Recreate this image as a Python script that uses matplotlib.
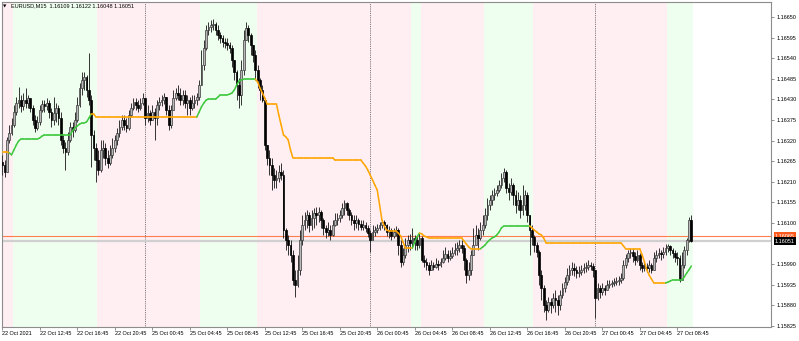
import matplotlib
matplotlib.use("Agg")
import matplotlib.pyplot as plt
import matplotlib.transforms as mtransforms
from matplotlib.collections import LineCollection
import numpy as np

plt.rcParams['font.family'] = ['Liberation Sans', 'DejaVu Sans']

# EURUSD M15, one bar every 15 min from 22 Oct 08:45 to 27 Oct 10:15
# prices kept as points (1e-5) above BASE
BASE = 1.15
first_open_pts = 1262

close_pts = [
    1255, 1236, 1322, 1340, 1362, 1396, 1420, 1428, 1412, 1428,
    1420, 1434, 1407, 1375, 1354, 1370, 1402, 1418, 1412, 1420,
    1396, 1375, 1394, 1407, 1380, 1322, 1300, 1290, 1322, 1356,
    1348, 1375, 1415, 1460, 1482, 1490, 1455, 1428, 1335, 1300,
    1268, 1242, 1295, 1300, 1274, 1260, 1282, 1300, 1322, 1340,
    1356, 1375, 1362, 1354, 1388, 1407, 1423, 1415, 1407, 1420,
    1434, 1380, 1394, 1375, 1396, 1380, 1415, 1423, 1428, 1436,
    1402, 1362, 1402, 1434, 1447, 1442, 1428, 1442, 1420, 1428,
    1407, 1420, 1428, 1436, 1468, 1522, 1567, 1615, 1623, 1629,
    1631, 1615, 1602, 1594, 1583, 1581, 1575, 1567, 1535, 1503,
    1468, 1442, 1508, 1589, 1621, 1602, 1575, 1549, 1508, 1482,
    1455, 1428, 1308, 1274, 1255, 1228, 1215, 1220, 1236, 1228,
    1081, 1055, 1041, 1015, 948, 934, 975, 1055, 1095, 1108,
    1121, 1095, 1113, 1127, 1121, 1129, 1108, 1087, 1076, 1081,
    1068, 1095, 1108, 1113, 1121, 1140, 1153, 1135, 1121, 1108,
    1100, 1108, 1097, 1089, 1095, 1087, 1073, 1055, 1076, 1081,
    1087, 1095, 1103, 1095, 1076, 1081, 1065, 1076, 1081, 1041,
    996, 1015, 1041, 1055, 1047, 1060, 1055, 1041, 1060, 1001,
    996, 988, 975, 988, 983, 991, 988, 996, 1007, 1017,
    1007, 1012, 1020, 1028, 1033, 1041, 1033, 1001, 961, 975,
    1015, 1041, 1068, 1060, 1081, 1095, 1121, 1148, 1161, 1175,
    1180, 1188, 1201, 1220, 1236, 1193, 1183, 1201, 1175, 1148,
    1161, 1135, 1148, 1175, 1121, 1081, 1063, 1041, 1023, 961,
    926, 881, 868, 889, 881, 900, 894, 881, 908, 926,
    942, 961, 975, 980, 975, 967, 969, 975, 980, 983,
    988, 985, 975, 900, 926, 916, 926, 921, 934, 937,
    940, 942, 945, 948, 953, 988, 1007, 1020, 1023, 1012,
    1001, 1015, 988, 980, 983, 980, 988, 975, 1007, 1015,
    1020, 1017, 1023, 1033, 1039, 1028, 1020, 1009, 1007, 948,
    988, 1028, 1055, 1109, 1051,
]

high_pts = [
    1282, 1268, 1330, 1362, 1380, 1415, 1436, 1463, 1442, 1447,
    1460, 1442, 1434, 1415, 1388, 1386, 1415, 1428, 1428, 1434,
    1428, 1407, 1436, 1420, 1415, 1396, 1335, 1316, 1343, 1370,
    1370, 1396, 1436, 1474, 1503, 1503, 1495, 1554, 1442, 1348,
    1314, 1295, 1322, 1322, 1314, 1295, 1308, 1327, 1335, 1354,
    1375, 1388, 1388, 1380, 1402, 1420, 1434, 1434, 1428, 1434,
    1447, 1428, 1415, 1402, 1415, 1407, 1428, 1436, 1442, 1447,
    1434, 1415, 1415, 1455, 1460, 1468, 1460, 1455, 1455, 1442,
    1436, 1442, 1442, 1447, 1482, 1562, 1589, 1629, 1637, 1642,
    1645, 1637, 1629, 1610, 1602, 1594, 1594, 1583, 1575, 1535,
    1508, 1487, 1535, 1615, 1637, 1629, 1607, 1575, 1562, 1522,
    1487, 1468, 1434, 1308, 1295, 1274, 1247, 1242, 1255, 1260,
    1242, 1087, 1068, 1055, 1028, 975, 1015, 1081, 1121, 1129,
    1135, 1129, 1135, 1140, 1143, 1143, 1135, 1113, 1095, 1103,
    1095, 1108, 1127, 1127, 1135, 1153, 1161, 1156, 1140, 1129,
    1121, 1121, 1113, 1108, 1108, 1103, 1095, 1081, 1095, 1092,
    1097, 1103, 1108, 1108, 1097, 1092, 1087, 1087, 1092, 1087,
    1055, 1033, 1060, 1068, 1071, 1087, 1068, 1065, 1073, 1065,
    1015, 1007, 996, 1001, 996, 1007, 1001, 1007, 1028, 1036,
    1028, 1028, 1036, 1047, 1049, 1055, 1055, 1041, 1007, 996,
    1028, 1087, 1095, 1087, 1103, 1121, 1140, 1167, 1175, 1188,
    1193, 1201, 1215, 1234, 1247, 1242, 1207, 1220, 1207, 1188,
    1183, 1175, 1201, 1188, 1183, 1121, 1095, 1068, 1049, 1028,
    975, 934, 894, 902, 900, 913, 921, 908, 921, 940,
    956, 980, 988, 996, 993, 985, 985, 988, 993, 996,
    1001, 996, 993, 975, 940, 934, 940, 934, 948, 948,
    948, 953, 956, 959, 967, 1001, 1017, 1028, 1033, 1031,
    1023, 1028, 1020, 996, 996, 993, 1001, 993, 1023, 1028,
    1033, 1028, 1036, 1044, 1044, 1041, 1033, 1028, 1023, 1015,
    1023, 1039, 1060, 1115, 1122,
]

low_pts = [
    1228, 1223, 1236, 1314, 1335, 1356, 1388, 1407, 1396, 1402,
    1407, 1407, 1396, 1362, 1343, 1348, 1362, 1396, 1396, 1402,
    1380, 1356, 1362, 1370, 1362, 1308, 1287, 1242, 1282, 1316,
    1330, 1343, 1370, 1410, 1442, 1455, 1436, 1415, 1250, 1268,
    1209, 1228, 1236, 1274, 1255, 1247, 1255, 1274, 1290, 1308,
    1330, 1348, 1348, 1343, 1348, 1383, 1402, 1402, 1396, 1402,
    1415, 1362, 1370, 1362, 1375, 1322, 1362, 1402, 1412, 1418,
    1388, 1348, 1354, 1402, 1428, 1428, 1415, 1415, 1407, 1388,
    1388, 1402, 1407, 1415, 1428, 1468, 1508, 1562, 1602, 1610,
    1615, 1602, 1589, 1581, 1570, 1567, 1562, 1554, 1516, 1482,
    1428, 1407, 1415, 1495, 1589, 1583, 1549, 1530, 1482, 1460,
    1428, 1423, 1295, 1255, 1228, 1188, 1193, 1193, 1209, 1215,
    1060, 1028, 1015, 996, 934, 902, 929, 961, 1041, 1081,
    1087, 1076, 1081, 1087, 1095, 1103, 1087, 1068, 1060, 1065,
    1055, 1065, 1092, 1095, 1103, 1113, 1121, 1121, 1108, 1095,
    1081, 1087, 1081, 1081, 1081, 1076, 1063, 1023, 1055, 1065,
    1073, 1081, 1087, 1081, 1065, 1060, 1055, 1060, 1065, 1015,
    983, 988, 1007, 1023, 1028, 1033, 1028, 1028, 1033, 996,
    983, 975, 961, 975, 975, 980, 975, 983, 993, 1001,
    996, 1001, 1007, 1015, 1015, 1023, 1020, 975, 940, 948,
    961, 1015, 1041, 1028, 1055, 1068, 1087, 1108, 1135, 1148,
    1161, 1172, 1183, 1193, 1209, 1180, 1161, 1175, 1148, 1127,
    1135, 1113, 1121, 1135, 1103, 1015, 1041, 1023, 1009, 934,
    894, 862, 841, 862, 860, 873, 862, 854, 868, 900,
    916, 934, 948, 961, 959, 953, 956, 961, 967, 969,
    975, 975, 956, 846, 894, 900, 908, 908, 921, 926,
    929, 932, 934, 934, 940, 948, 980, 996, 1007, 996,
    988, 996, 975, 969, 972, 969, 969, 967, 975, 996,
    1007, 1001, 1007, 1015, 1023, 1015, 1007, 996, 988, 942,
    948, 980, 1015, 1050, 1048,
]

# trailing stop line, same units
st_pts = [
    1290, 1290, 1290, 1287, 1282, 1295, 1308, 1319, 1324, 1324,
    1324, 1324, 1324, 1324, 1324, 1324, 1327, 1332, 1335, 1335,
    1335, 1335, 1335, 1335, 1335, 1335, 1335, 1335, 1335, 1335,
    1346, 1354, 1359, 1364, 1367, 1367, 1370, 1380, 1391, 1391,
    1383, 1383, 1383, 1383, 1383, 1383, 1383, 1383, 1383, 1383,
    1383, 1383, 1383, 1383, 1383, 1383, 1383, 1383, 1383, 1383,
    1383, 1383, 1383, 1383, 1383, 1383, 1383, 1383, 1383, 1383,
    1383, 1383, 1383, 1383, 1383, 1383, 1383, 1383, 1383, 1383,
    1383, 1383, 1383, 1383, 1396, 1410, 1420, 1428, 1431, 1431,
    1431, 1431, 1436, 1442, 1442, 1442, 1442, 1444, 1447, 1455,
    1468, 1479, 1482, 1484, 1484, 1484, 1484, 1484, 1484, 1476,
    1460, 1447, 1434, 1418, 1418, 1418, 1418, 1418, 1388, 1362,
    1335, 1330, 1322, 1295, 1274, 1274, 1274, 1274, 1274, 1274,
    1274, 1274, 1274, 1274, 1274, 1274, 1274, 1274, 1274, 1274,
    1274, 1274, 1268, 1268, 1268, 1268, 1268, 1268, 1268, 1268,
    1268, 1268, 1268, 1268, 1260, 1252, 1241, 1228, 1215, 1201,
    1188, 1148, 1108, 1092, 1081, 1079, 1079, 1079, 1079, 1073,
    1065, 1049, 1033, 1033, 1033, 1033, 1049, 1063, 1073, 1071,
    1065, 1063, 1060, 1060, 1060, 1060, 1060, 1060, 1060, 1060,
    1060, 1060, 1060, 1060, 1060, 1060, 1060, 1052, 1044, 1036,
    1031, 1031, 1031, 1031, 1031, 1036, 1041, 1049, 1055, 1060,
    1063, 1068, 1076, 1087, 1092, 1092, 1092, 1092, 1092, 1092,
    1092, 1092, 1092, 1092, 1092, 1092, 1087, 1081, 1076, 1071,
    1068, 1060, 1047, 1047, 1047, 1047, 1047, 1047, 1047, 1047,
    1047, 1047, 1047, 1047, 1047, 1047, 1047, 1047, 1047, 1047,
    1047, 1047, 1047, 1047, 1047, 1047, 1047, 1047, 1047, 1047,
    1047, 1047, 1047, 1047, 1047, 1039, 1031, 1031, 1031, 1031,
    1031, 1031, 1031, 1015, 996, 975, 961, 950, 940, 940,
    940, 940, 940, 940, 942, 945, 948, 948, 948, 948,
    948, 956, 966, 975, 985,
]
st_up_runs = [(4, 38), (84, 108), (176, 178), (205, 225), (284, 294)]

# background zones (bar index ranges) and day separators
green_zones = [(5, 40), (85, 108), (175, 178), (206, 226), (284, 294)]
day_breaks = [61, 157, 253]

price_ticks = [1.16650, 1.16595, 1.16540, 1.16485, 1.16430, 1.16375, 1.16320,
               1.16265, 1.16210, 1.16155, 1.16100, 1.15990, 1.15935, 1.15880,
               1.15825]
time_ticks = [0, 16, 32, 48, 64, 80, 96, 112, 128, 144, 160, 176, 192, 208,
              224, 240, 256, 272, 288]
time_labels = ['22 Oct 2021', '22 Oct 12:45', '22 Oct 16:45', '22 Oct 20:45',
               '25 Oct 00:45', '25 Oct 04:45', '25 Oct 08:45', '25 Oct 12:45',
               '25 Oct 16:45', '25 Oct 20:45', '26 Oct 00:45', '26 Oct 04:45',
               '26 Oct 08:45', '26 Oct 12:45', '26 Oct 16:45', '26 Oct 20:45',
               '27 Oct 00:45', '27 Oct 04:45', '27 Oct 08:45']
level_price = 1.16065
bid_price = 1.16051
title = 'EURUSD,M15  1.16109 1.16122 1.16048 1.16051'

PINK = '#FFEEF2'
MINT = '#EFFFEF'
ORANGE = '#FFA500'
GREEN = '#3CC83C'
FS = 4.0

c = BASE + np.array(close_pts) * 1e-5
o = np.concatenate([[BASE + first_open_pts * 1e-5], c[:-1]])
h = np.maximum(BASE + np.array(high_pts) * 1e-5, np.maximum(o, c))
l = np.minimum(BASE + np.array(low_pts) * 1e-5, np.minimum(o, c))
st = BASE + np.array(st_pts) * 1e-5
n = len(c)
x = np.arange(n)

fig = plt.figure(figsize=(7.99, 3.41), dpi=100)
ax = fig.add_axes([1.5 / 799, 14.5 / 341, 770 / 799, 325 / 341])
ax.set_xlim(-0.3, 328.2)
ax.set_ylim(1.158236, 1.166914)

# background
ax.axvspan(-0.3, n - 0.5, color=PINK, lw=0, zorder=0)
for a, b in green_zones:
    ax.axvspan(a - 0.5, b + 0.5, color=MINT, lw=0, zorder=0)

for d in day_breaks:
    ax.axvline(d, color='#555555', lw=0.6, ls=(0, (1, 1.2)), zorder=1)

ax.axhline(bid_price, color='#D0D0D0', lw=1.6, zorder=1)
ax.axhline(level_price, color='#FF7F50', lw=0.8, zorder=1)

# candles
ax.vlines(x, l, h, color='#333333', lw=0.7, zorder=3)
bull = c >= o
body = np.maximum(np.abs(c - o), 1e-5)
ax.bar(x[bull], body[bull], bottom=o[bull], width=0.75, color='#B8B8B8',
       edgecolor='#3A3A3A', lw=0.5, zorder=4)
ax.bar(x[~bull], body[~bull], bottom=c[~bull], width=0.75, color='black',
       edgecolor='black', lw=0.5, zorder=4)

# trailing line, coloured by trend
up = np.zeros(n, bool)
for a, b in st_up_runs:
    up[a:b + 1] = True
segs = [[(i - 1, st[i - 1]), (i, st[i])] for i in range(1, n)]
cols = [GREEN if up[i] else ORANGE for i in range(1, n)]
ax.add_collection(LineCollection(segs, colors=cols, linewidths=1.1,
                                 capstyle='round', zorder=5))

# axes look
for s in ax.spines.values():
    s.set_color('#8C8C8C')
    s.set_linewidth(0.8)
ax.yaxis.tick_right()
ax.set_yticks(price_ticks)
ax.set_yticklabels([f'{p:.5f}' for p in price_ticks])
ax.set_xticks(time_ticks)
ax.set_xticklabels(time_labels, ha='left')
ax.tick_params(axis='y', length=2.5, width=0.5, color='#666666', pad=1.5,
               labelsize=FS)
ax.tick_params(axis='x', length=2, width=0.5, color='#666666', pad=1.5,
               labelsize=FS)

tr = mtransforms.blended_transform_factory(ax.transAxes, ax.transData)
ax.text(1.0046, level_price, f'{level_price:.5f}', transform=tr, fontsize=FS,
        color='white', va='center', ha='left', clip_on=False, zorder=6,
        bbox=dict(boxstyle='square,pad=0.25', fc='#FF5A1E', ec='none'))
ax.text(1.0046, bid_price, f'{bid_price:.5f}', transform=tr, fontsize=FS,
        color='white', va='center', ha='left', clip_on=False, zorder=7,
        bbox=dict(boxstyle='square,pad=0.25', fc='black', ec='none'))

ax.text(0.0123, 0.986, title, transform=ax.transAxes, fontsize=FS,
        va='center', ha='left', zorder=8)
ax.text(0.0025, 0.986, '\u25bc', transform=ax.transAxes, fontsize=3.2,
        va='center', ha='left', family='DejaVu Sans', zorder=8)

fig.savefig('out.png', dpi=100)
